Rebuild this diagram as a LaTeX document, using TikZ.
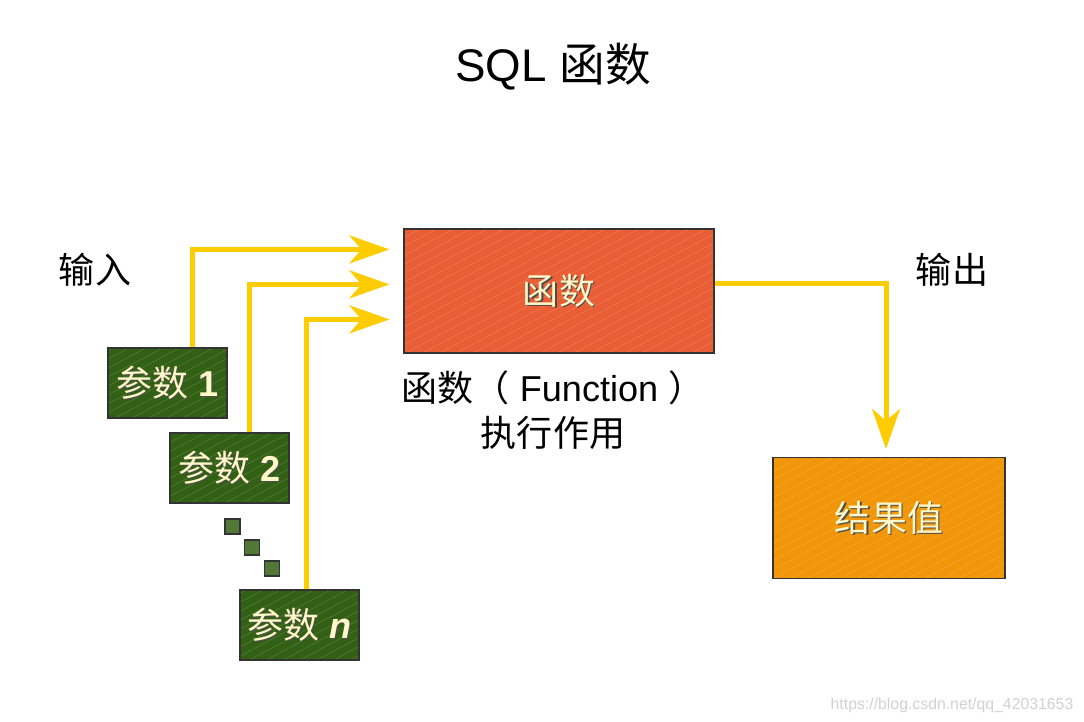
\documentclass[tikz,border=0pt]{standalone}
\usepackage{fontspec}
\setmainfont{Liberation Sans}
\newfontfamily\cjk{Noto Sans CJK SC}
\usetikzlibrary{arrows.meta}
\usetikzlibrary{patterns.meta}

\definecolor{flowcolor}{RGB}{255,204,0}
\definecolor{funccolor}{RGB}{234,94,54}
\definecolor{rescolor}{RGB}{240,150,8}
\definecolor{parcolor}{RGB}{50,96,20}
\definecolor{creamcolor}{RGB}{255,248,200}

\newcommand\boxtext[1]{\leavevmode\rlap{\kern0.7pt\raisebox{-0.7pt}{\color{black!70}#1}}#1}

\begin{document}
\begin{tikzpicture}[x=0.02cm,y=-0.02cm,>=Stealth,
  flow/.style={draw=flowcolor,line width=0.1cm,
    arrows={-Stealth[length=0.8cm,width=0.56cm,inset=0.24cm]}},
  block/.style={preaction={fill=#1},
    pattern={Lines[angle=28,distance=4.5pt,line width=0.3pt]},pattern color=#1!82!white,
    draw=black!80,line width=0.7pt,text=creamcolor,
    font=\fontsize{20.5}{24}\selectfont},
  parbox/.style={block=parcolor,minimum width=2.38cm,minimum height=1.4cm},
  dotbox/.style={draw=black!80,line width=0.6pt,fill=parcolor!85!white,minimum size=0.3cm,inner sep=0pt},
  plain text/.style={font=\fontsize{20.5}{24}\selectfont}]

 \useasboundingbox (0,0) rectangle (1084,721);

 \node[font=\fontsize{26}{30}\selectfont] (title) at (553,67) {SQL {\cjk 函数}};
 \node[plain text] (input) at (95,270) {\cjk 输入};
 \node[plain text] (output) at (952,270) {\cjk 输出};

 \node[block=funccolor,minimum width=6.2cm,minimum height=2.48cm] (func) at (559,291) {\boxtext{\cjk 函数}};
 \node[plain text,align=center] (funclabel) at (553,410) {{\cjk 函数（} Function {\cjk ）}\\[2pt]{\cjk 执行作用}};

 \node[block=rescolor,minimum width=4.64cm,minimum height=2.42cm] (res) at (889,518) {\boxtext{\cjk 结果值}};

 \node[parbox] (par1) at (167.5,383) {\boxtext{{\cjk 参数} \textbf{1}}};
 \node[parbox] (par2) at (229.5,468) {\boxtext{{\cjk 参数} \textbf{2}}};
 \node[parbox] (parn) at (299.5,625) {\boxtext{{\cjk 参数} \textbf{\textit{n}}}};

 \node[dotbox] (dot1) at (232.5,526.5) {};
 \node[dotbox] (dot2) at (252,547.5) {};
 \node[dotbox] (dot3) at (272,568.5) {};

 \coordinate (in1) at ([yshift=-0.42cm]func.north west);
 \coordinate (in2) at ([yshift=-1.12cm]func.north west);
 \coordinate (in3) at ([yshift=-1.82cm]func.north west);

 \draw[flow,shorten >=0.28cm] ([xshift=0.51cm]par1.north) |- (in1);
 \draw[flow,shorten >=0.28cm] ([xshift=0.39cm]par2.north) |- (in2);
 \draw[flow,shorten >=0.28cm] ([xshift=0.13cm]parn.north) |- (in3);
 \draw[flow,shorten >=0.16cm] ([yshift=0.16cm]func.east) -| ([xshift=-0.06cm]res.north);

 \node[text=black!18,font=\fontsize{9}{11}\selectfont] (mark) at (952,705) {https://blog.csdn.net/qq\_42031653};
\end{tikzpicture}
\end{document}
